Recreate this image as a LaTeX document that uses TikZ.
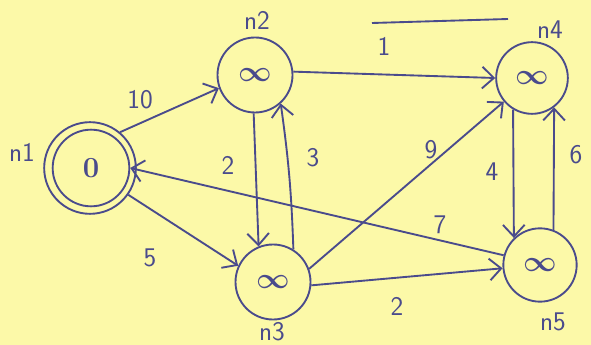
\documentclass[tikz,border=0pt]{standalone}
\usetikzlibrary{arrows.meta}
\definecolor{paper}{HTML}{FCF9A8}
\definecolor{ink}{HTML}{4A4B8C}
\begin{document}
\begin{tikzpicture}[x=0.03cm,y=-0.03cm,
  every node/.style={text=ink},
  state/.style={draw=ink,line width=1.6pt,circle,minimum size=2.25cm,inner sep=0pt,font=\fontsize{26}{28}\selectfont\boldmath},
  lbl/.style={font=\fontsize{23}{25}\sffamily},
  wt/.style={font=\fontsize{23}{25}\sffamily},
  edge/.style={draw=ink,line width=1.6pt,-{Straight Barb[length=3.5mm,width=6.5mm,line width=1.6pt]}},
  plain/.style={draw=ink,line width=1.6pt}]
\fill[paper] (0,0) rectangle (591,345);
\useasboundingbox (0,0) rectangle (591,345);
% nodes
\node[state,minimum size=2.75cm] (n1o) at (90,168) {};
\node[state,minimum size=2.3cm] (n1) at (91,168) {$0$};
\node[state] (n2) at (255,75) {$\infty$};
\node[state] (n3) at (273,282) {$\infty$};
\node[state,minimum size=2.15cm] (n4) at (532,78) {$\infty$};
\node[state,minimum size=2.2cm] (n5) at (540,265) {$\infty$};
% labels
\node[lbl] (l1) at (22,152) {n1};
\node[lbl] (l2) at (257,20) {n2};
\node[lbl] (l3) at (272,332) {n3};
\node[lbl] (l4) at (550,30) {n4};
\node[lbl] (l5) at (553,322) {n5};
% edges
\draw[edge] (n1o.50) -- (n2.200);
\draw[edge] (n1o.-35) -- (n3.155);
\draw[edge] (n2.-92) -- (n3.112);
\draw[edge] (n3.58) to[bend right=3] (n2.-48);
\draw[edge] (n2.5) -- (n4.180);
\draw[edge] (n3.20) -- (n4.220);
\draw[edge] (n4.-121) -- (n5.134);
\draw[edge] (n5.69) -- (n4.-53);
\draw[edge] (n5.165) -- (n1.0);
\draw[edge] (n3.-5) -- (n5.185);
% stray line above weight 1
\coordinate (s1) at (372,23);
\coordinate (s2) at (508,19);
\draw[plain] (s1) -- (s2);
% weights
\node[wt] (w10) at (140,100) {10};
\node[wt] (w2a) at (228,165) {2};
\node[wt] (w3) at (313,158) {3};
\node[wt] (w1) at (384,46) {1};
\node[wt] (w9) at (431,150) {9};
\node[wt] (w4) at (492,172) {4};
\node[wt] (w6) at (576,155) {6};
\node[wt] (w7) at (440,225) {7};
\node[wt] (w5) at (150,258) {5};
\node[wt] (w2b) at (397,306) {2};
\end{tikzpicture}
\end{document}
